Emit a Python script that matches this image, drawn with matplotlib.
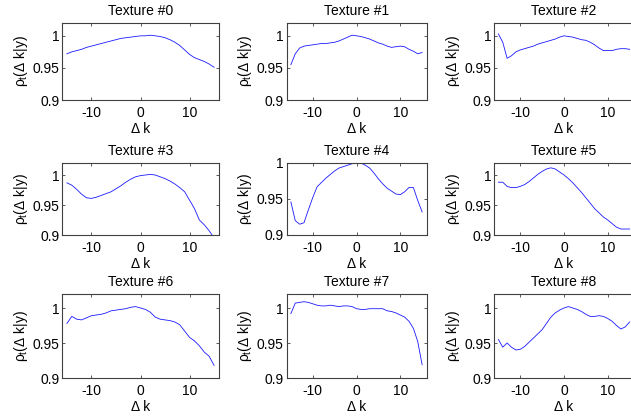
import matplotlib
matplotlib.use('Agg')
import matplotlib.pyplot as plt
import numpy as np

plt.rcParams['font.family'] = ['Liberation Sans', 'DejaVu Sans']
plt.rcParams['mathtext.fontset'] = 'custom'
plt.rcParams['mathtext.rm'] = 'Liberation Sans'
plt.rcParams['mathtext.it'] = 'Liberation Sans'

dk = np.arange(-15, 16)

tex0 = [0.972, 0.975, 0.977, 0.979, 0.982, 0.984, 0.986, 0.988, 0.990, 0.992, 0.994,
        0.996, 0.997, 0.998, 0.999, 1.000, 1.000, 1.001, 1.000, 0.999, 0.997, 0.994,
        0.990, 0.985, 0.978, 0.971, 0.966, 0.963, 0.960, 0.956, 0.951]
tex1 = [0.955, 0.972, 0.981, 0.984, 0.985, 0.986, 0.987, 0.988, 0.988, 0.989, 0.990,
        0.992, 0.995, 0.998, 1.001, 1.000, 0.999, 0.997, 0.995, 0.992, 0.989, 0.987,
        0.984, 0.982, 0.983, 0.984, 0.983, 0.979, 0.976, 0.972, 0.974]
tex2 = [1.003, 0.990, 0.965, 0.969, 0.975, 0.978, 0.980, 0.982, 0.984, 0.987, 0.989,
        0.991, 0.993, 0.995, 0.998, 1.000, 0.999, 0.998, 0.996, 0.994, 0.993, 0.990,
        0.986, 0.981, 0.977, 0.977, 0.977, 0.979, 0.980, 0.980, 0.979]
tex3 = [0.987, 0.983, 0.976, 0.968, 0.962, 0.961, 0.963, 0.966, 0.969, 0.972, 0.977,
        0.982, 0.988, 0.993, 0.997, 0.999, 1.000, 1.001, 1.000, 0.997, 0.994, 0.990,
        0.985, 0.979, 0.972, 0.958, 0.944, 0.925, 0.917, 0.907, 0.895]
tex4 = [0.946, 0.920, 0.915, 0.917, 0.935, 0.952, 0.967, 0.973, 0.979, 0.984, 0.989,
        0.993, 0.995, 0.997, 0.999, 1.000, 1.000, 0.997, 0.993, 0.986, 0.978, 0.971,
        0.965, 0.961, 0.957, 0.956, 0.960, 0.966, 0.966, 0.948, 0.932]
tex5 = [0.988, 0.988, 0.981, 0.979, 0.979, 0.981, 0.984, 0.989, 0.995, 1.001, 1.006,
        1.010, 1.012, 1.010, 1.005, 1.000, 0.994, 0.987, 0.979, 0.971, 0.962, 0.953,
        0.944, 0.937, 0.930, 0.925, 0.919, 0.913, 0.910, 0.910, 0.910]
tex6 = [0.978, 0.988, 0.984, 0.983, 0.986, 0.989, 0.990, 0.991, 0.993, 0.996, 0.997,
        0.998, 0.999, 1.001, 1.002, 1.000, 0.998, 0.994, 0.987, 0.984, 0.983, 0.982,
        0.980, 0.976, 0.967, 0.958, 0.953, 0.946, 0.937, 0.931, 0.918]
tex7 = [0.992, 1.007, 1.008, 1.009, 1.008, 1.006, 1.004, 1.003, 1.003, 1.004, 1.003,
        1.002, 1.003, 1.003, 1.002, 0.999, 0.998, 0.998, 0.999, 0.999, 0.999, 0.999,
        0.996, 0.995, 0.993, 0.990, 0.987, 0.981, 0.971, 0.952, 0.919]
tex8 = [0.955, 0.944, 0.950, 0.944, 0.940, 0.941, 0.945, 0.951, 0.957, 0.963, 0.969,
        0.978, 0.987, 0.993, 0.997, 1.000, 1.002, 1.000, 0.998, 0.995, 0.991, 0.988,
        0.988, 0.989, 0.988, 0.985, 0.981, 0.975, 0.970, 0.973, 0.980]

textures = [tex0, tex1, tex2, tex3, tex4, tex5, tex6, tex7, tex8]
titles = ['Texture #%d' % i for i in range(9)]
ytop = [1.02, 1.02, 1.02, 1.02, 1.0, 1.02, 1.02, 1.02, 1.02]

W, H = 631, 418
col_left = [62, 286.5, 494]
col_width = [157, 140, 140]
row_top = [23, 163, 294]
row_bot = [100, 235, 378]

fig = plt.figure(figsize=(W / 100, H / 100), dpi=100)
fig.patch.set_facecolor('white')

ylab = r'$\rho_t$' + '(\u0394 k|y)'

for i, y in enumerate(textures):
    r, c = divmod(i, 3)
    ax = fig.add_axes([col_left[c] / W, 1 - row_bot[r] / H,
                       col_width[c] / W, (row_bot[r] - row_top[r]) / H])
    ax.plot(dk, y, color='#1a1aff', lw=0.6)
    ax.set_xlim(-16, 16)
    ax.set_ylim(0.9, ytop[i])
    ax.set_xticks([-10, 0, 10])
    ax.set_xticklabels(['-10', '0', '10'])
    ax.set_yticks([0.9, 0.95, 1.0])
    ax.set_yticklabels(['0.9', '0.95', '1'])
    ax.tick_params(direction='in', length=2.5, width=0.6, labelsize=10,
                   top=True, right=True, color='#404040')
    ax.tick_params(axis='x', pad=4)
    ax.tick_params(axis='y', pad=2)
    for s in ax.spines.values():
        s.set_linewidth(0.8)
        s.set_color('#404040')
    ax.set_title(titles[i], fontsize=10, pad=6)
    ax.set_xlabel('\u0394 k', fontsize=10, labelpad=2)
    ax.set_ylabel(ylab, fontsize=10, labelpad=2)

fig.savefig('out.png', dpi=100)
